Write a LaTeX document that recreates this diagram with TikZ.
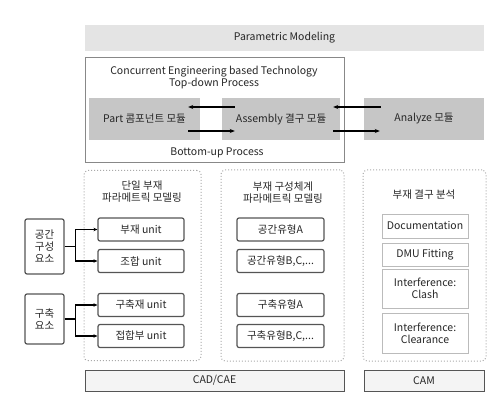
\documentclass[tikz,border=0pt]{standalone}
\usepackage{fontspec}
\setmainfont{Noto Sans CJK KR}
\usetikzlibrary{arrows.meta,positioning}

\definecolor{txtgray}{HTML}{262626}
\definecolor{barfill}{HTML}{E4E4E4}
\definecolor{modfill}{HTML}{C6C6C6}
\definecolor{edgegray}{HTML}{555555}
\definecolor{dotgray}{HTML}{AAAAAA}

\begin{document}
\begin{tikzpicture}[x=1pt,y=-1pt,
    every node/.style={text=txtgray,font=\fontsize{10.5}{12}\selectfont,align=center,inner sep=0pt},
    bar/.style={fill=barfill,draw=none},
    module/.style={fill=modfill,draw=none},
    unitbox/.style={draw=edgegray,line width=1.2pt,rounded corners=2pt,fill=white},
    camitem/.style={draw=dotgray!80,line width=0.9pt,fill=white},
    group/.style={draw=dotgray,dotted,line width=1pt,rounded corners=4pt},
    flow/.style={-{Stealth[length=5pt,width=4pt]},line width=1.1pt,black},
    branch/.style={-{Stealth[length=4pt,width=3.5pt]},line width=1.1pt,black}]
  \useasboundingbox (0,0) rectangle (500,411);

  % top bar
  \node[bar,minimum width=399,minimum height=26] (param) at (284.5,38) {Parametric Modeling};

  % concurrent engineering frame
  \node[draw=edgegray!70,line width=0.8pt,minimum width=259,minimum height=105] (ce) at (214.5,109.5) {};
  \node (cetitle) at (214,78) {Concurrent Engineering based Technology\\Top-down Process};
  \node (bottomup) at (217,153) {Bottom-up Process};

  % modules
  \node[module,minimum width=111,minimum height=42] (part) at (144.5,119) {Part 콤포넌트 모듈};
  \node[module,minimum width=118,minimum height=42] (asm) at (281,119) {Assembly 결구 모듈};
  \node[module,minimum width=120,minimum height=42] (ana) at (424,119) {Analyze 모듈};
  \draw[flow] ([xshift=13pt,yshift=12pt]asm.west) -- ([xshift=-12pt,yshift=12pt]part.east);
  \draw[flow] ([xshift=-12pt,yshift=-12pt]part.east) -- ([xshift=13pt,yshift=-12pt]asm.west);
  \draw[flow] ([xshift=17pt,yshift=12pt]ana.west) -- ([xshift=-7pt,yshift=12pt]asm.east);
  \draw[flow] ([xshift=-7pt,yshift=-12pt]asm.east) -- ([xshift=16pt,yshift=-12pt]ana.west);

  % dotted groups
  \node[group,minimum width=117,minimum height=190] (single) at (142.5,265.5) {};
  \node[group,minimum width=123,minimum height=191] (system) at (282.5,265.5) {};
  \node[group,minimum width=123,minimum height=191] (joint) at (424.5,265.5) {};
  \node (singletitle) at (142,192) {단일 부재\\파라메트릭 모델링};
  \node (systemtitle) at (283,192.5) {부재 구성체계\\파라메트릭 모델링};
  \node (jointtitle) at (424,195) {부재 결구 분석};

  % single member units
  \foreach \nm/\yy/\lbl in {bujae/229.5/부재 unit, johap/261/조합 unit, gukjae/305/구축재 unit, jeophap/336/접합부 unit}
    \node[unitbox,minimum width=86,minimum height=23] (\nm) at (141,\yy) {\lbl};

  % system units
  \foreach \nm/\yy/\lbl in {spa/229.5/공간유형A, spb/261/{공간유형B,C,...}, cna/305/구축유형A, cnb/336/{구축유형B,C,...}}
    \node[unitbox,minimum width=87,minimum height=23] (\nm) at (280.5,\yy) {\lbl};

  % analysis items
  \node[camitem,minimum width=86,minimum height=24] (doc) at (425,226) {Documentation};
  \node[camitem,minimum width=86,minimum height=23] (dmu) at (425,254.5) {DMU Fitting};
  \node[camitem,minimum width=86,minimum height=39] (clash) at (425,288.5) {Interference:\\Clash};
  \node[camitem,minimum width=86,minimum height=40] (clear) at (425,333) {Interference:\\Clearance};

  % left elements
  \node[unitbox,minimum width=39,minimum height=55] (space) at (44.5,246.5) {공간\\구성\\요소};
  \node[unitbox,minimum width=39,minimum height=50] (build) at (44.5,319) {구축\\요소};
  \draw[branch] (space.east) -- ++(11,0) |- (bujae.west);
  \draw[branch] (space.east) -- ++(11,0) |- (johap.west);
  \draw[branch] (build.east) -- ++(11,0) |- (gukjae.west);
  \draw[branch] (build.east) -- ++(11,0) |- (jeophap.west);

  % bottom bars
  \node[draw=edgegray,line width=1pt,fill=barfill!40,minimum width=259,minimum height=21] (cad) at (214.5,380.5) {CAD/CAE};
  \node[draw=edgegray,line width=1pt,fill=barfill!40,minimum width=120,minimum height=21] (cam) at (424,380.5) {CAM};
\end{tikzpicture}
\end{document}
